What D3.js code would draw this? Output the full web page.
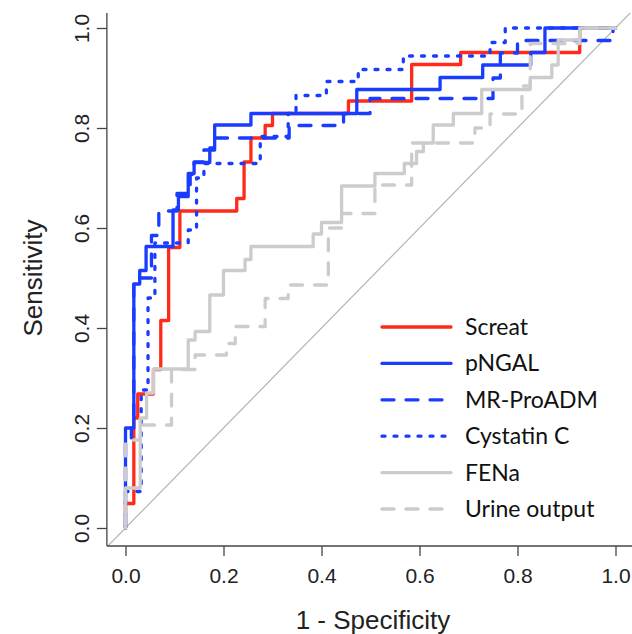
<!DOCTYPE html>
<html>
<head>
<meta charset="utf-8">
<script src="https://cdn.jsdelivr.net/npm/d3@7"></script>
<style>
  body { margin: 0; background: #fff; }
  svg { display: block; }
</style>
</head>
<body>
<div id="chart"></div>
<script>
// ROC points: [1 - specificity, sensitivity]
// each point is the top of a vertical step (drawn with curveStepAfter)
var screat = [[0,0],[0,0.049],[0.017,0.22],[0.025,0.268],[0.057,0.317],[0.072,0.415],[0.088,0.561],
  [0.111,0.634],[0.227,0.659],[0.242,0.732],[0.256,0.78],[0.285,0.805],[0.3,0.829],[0.455,0.854],
  [0.584,0.927],[0.684,0.951],[0.927,1],[1,1]];
var pngal = [[0,0],[0,0.2],[0.017,0.488],[0.029,0.515],[0.042,0.563],[0.097,0.636],[0.108,0.663],
  [0.128,0.709],[0.14,0.731],[0.172,0.76],[0.182,0.806],[0.256,0.829],[0.472,0.877],[0.642,0.901],
  [0.729,0.926],[0.827,0.951],[0.856,1],[1,1]];
var proadm = [[0,0],[0,0.171],[0.012,0.2],[0.017,0.5],[0.053,0.585],[0.068,0.634],[0.105,0.669],
  [0.132,0.707],[0.14,0.732],[0.16,0.756],[0.182,0.78],[0.334,0.805],[0.445,0.829],[0.499,0.859],
  [0.75,0.9],[0.765,0.95],[0.8,0.975],[0.995,1],[1,1]];
var cystatin = [[0,0],[0,0.073],[0.032,0.276],[0.046,0.46],[0.06,0.57],[0.128,0.596],[0.145,0.7],
  [0.16,0.729],[0.275,0.783],[0.332,0.829],[0.348,0.865],[0.41,0.893],[0.475,0.917],[0.567,0.944],
  [0.744,0.971],[0.775,1],[1,1]];
var fena = [[0,0],[0,0.08],[0.03,0.22],[0.043,0.27],[0.057,0.318],[0.128,0.376],[0.142,0.393],
  [0.172,0.466],[0.2,0.515],[0.244,0.537],[0.256,0.563],[0.383,0.588],[0.4,0.611],[0.441,0.684],
  [0.509,0.709],[0.569,0.729],[0.594,0.753],[0.608,0.77],[0.628,0.806],[0.669,0.829],[0.727,0.877],
  [0.826,0.901],[0.87,0.926],[0.883,0.976],[0.927,1],[1,1]];
var urine = [[0,0],[0,0.176],[0.03,0.206],[0.094,0.317],[0.142,0.346],[0.206,0.369],[0.224,0.403],
  [0.285,0.459],[0.332,0.486],[0.414,0.6],[0.441,0.629],[0.509,0.686],[0.584,0.77],[0.713,0.8],
  [0.744,0.828],[0.809,0.884],[0.826,0.969],[0.927,1],[1,1]];

var seriesNames = ['Screat', 'pNGAL', 'MR-ProADM', 'Cystatin C', 'FENa', 'Urine output'];
var seriesData = [screat, pngal, proadm, cystatin, fena, urine];
var xTicks = [0, 0.2, 0.4, 0.6, 0.8, 1.0];
var yTicks = [0, 0.2, 0.4, 0.6, 0.8, 1.0];

var red = '#ff2a1a', blue = '#1a3cff', gray = '#cccccc';
var styles = [
  {color: red,  dash: null},
  {color: blue, dash: null},
  {color: blue, dash: '12,12'},
  {color: blue, dash: '3,9'},
  {color: gray, dash: null},
  {color: gray, dash: '12,12'}
];

var width = 632, height = 634;
var xScale = d3.scaleLinear().domain([0, 1]).range([125.5, 615.5]);
var yScale = d3.scaleLinear().domain([0, 1]).range([528, 28]);
var xMin = -0.038, xMax = 1.04, yMin = -0.036, yMax = 1.03;

var svg = d3.select('#chart')
  .append('svg')
  .attr('width', width)
  .attr('height', height);

svg.append('defs').append('clipPath')
  .attr('id', 'plot-clip')
  .append('rect')
  .attr('x', xScale(xMin))
  .attr('y', yScale(yMax))
  .attr('width', xScale(xMax) - xScale(xMin))
  .attr('height', yScale(yMin) - yScale(yMax));

var plot = svg.append('g').attr('clip-path', 'url(#plot-clip)');

// reference diagonal
plot.append('line')
  .attr('x1', xScale(-0.1)).attr('y1', yScale(-0.1))
  .attr('x2', xScale(1.1)).attr('y2', yScale(1.1))
  .attr('stroke', '#b4b4b4')
  .attr('stroke-width', 1.2);

var line = d3.line()
  .x(function(d) { return xScale(d[0]); })
  .y(function(d) { return yScale(d[1]); })
  .curve(d3.curveStepAfter);

seriesData.forEach(function(data, i) {
  plot.append('path')
    .datum(data)
    .attr('fill', 'none')
    .attr('stroke', styles[i].color)
    .attr('stroke-width', 3.3)
    .attr('stroke-linecap', 'round')
    .attr('stroke-linejoin', 'round')
    .attr('stroke-dasharray', styles[i].dash)
    .attr('d', line);
});

// axes, R style (bty = "l")
var axisColor = '#444';
svg.append('line')
  .attr('x1', xScale(xMin)).attr('x2', xScale(xMin))
  .attr('y1', yScale(yMax)).attr('y2', yScale(yMin))
  .attr('stroke', axisColor).attr('stroke-width', 1.3);
svg.append('line')
  .attr('x1', xScale(xMin)).attr('x2', xScale(xMax))
  .attr('y1', yScale(yMin)).attr('y2', yScale(yMin))
  .attr('stroke', axisColor).attr('stroke-width', 1.3);

var xAxis = d3.axisBottom(xScale)
  .tickValues(xTicks)
  .tickSize(10)
  .tickPadding(12)
  .tickFormat(d3.format('.1f'));
var gx = svg.append('g')
  .attr('transform', 'translate(0,' + yScale(yMin) + ')')
  .call(xAxis);
gx.select('.domain').remove();
gx.selectAll('line').attr('stroke', axisColor).attr('stroke-width', 1.3);
gx.selectAll('text')
  .attr('fill', '#222')
  .style('font-family', '"Liberation Sans", Arial, sans-serif')
  .style('font-size', '21px');

var yAxis = d3.axisLeft(yScale)
  .tickValues(yTicks)
  .tickSize(10)
  .tickFormat(d3.format('.1f'));
var gy = svg.append('g')
  .attr('transform', 'translate(' + xScale(xMin) + ',0)')
  .call(yAxis);
gy.select('.domain').remove();
gy.selectAll('line').attr('stroke', axisColor).attr('stroke-width', 1.3);
gy.selectAll('text')
  .attr('fill', '#222')
  .attr('x', 0).attr('dy', null)
  .attr('text-anchor', 'middle')
  .attr('transform', 'translate(-18,0) rotate(-90)')
  .attr('y', 0)
  .style('font-family', '"Liberation Sans", Arial, sans-serif')
  .style('font-size', '21px');

// axis titles
svg.append('text')
  .attr('x', (xScale(xMin) + xScale(xMax)) / 2 + 2)
  .attr('y', 629)
  .attr('text-anchor', 'middle')
  .attr('fill', '#222')
  .style('font-family', '"Liberation Sans", Arial, sans-serif')
  .style('font-size', '26px')
  .text('1 - Specificity');

svg.append('text')
  .attr('transform', 'translate(42,' + (yScale(0.5)) + ') rotate(-90)')
  .attr('text-anchor', 'middle')
  .attr('fill', '#222')
  .style('font-family', '"Liberation Sans", Arial, sans-serif')
  .style('font-size', '26px')
  .text('Sensitivity');

// legend
var legend = svg.append('g').attr('transform', 'translate(382,327)');
seriesNames.forEach(function(name, i) {
  var row = legend.append('g').attr('transform', 'translate(0,' + (i * 36.4) + ')');
  row.append('line')
    .attr('x1', 0).attr('x2', 69)
    .attr('y1', 0).attr('y2', 0)
    .attr('stroke', styles[i].color)
    .attr('stroke-width', 3.3)
    .attr('stroke-linecap', 'round')
    .attr('stroke-dasharray', styles[i].dash);
  row.append('text')
    .attr('x', 83)
    .attr('y', 0)
    .attr('dy', '0.35em')
    .attr('fill', '#111')
    .style('font-family', 'Lato, "Open Sans", sans-serif')
    .style('font-size', '23px')
    .text(name);
});
</script>
</body>
</html>
